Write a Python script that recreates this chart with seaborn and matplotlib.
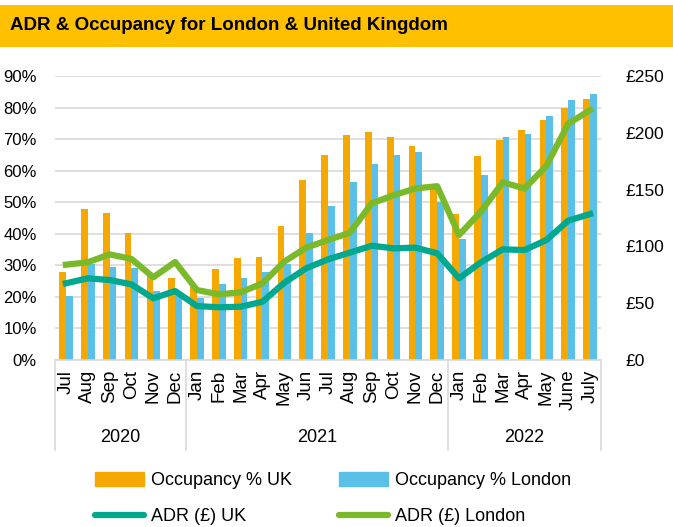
import numpy as np
import pandas as pd
import seaborn as sns
from matplotlib import pyplot as plt
from matplotlib.patches import Rectangle, Patch
from matplotlib.lines import Line2D

months = ["Jul", "Aug", "Sep", "Oct", "Nov", "Dec",
          "Jan", "Feb", "Mar", "Apr", "May", "Jun", "Jul", "Aug", "Sep", "Oct", "Nov", "Dec",
          "Jan", "Feb", "Mar", "Apr", "May", "June", "July"]
years = ["2020", "2021", "2022"]
year_spans = [6, 12, 7]

occ_uk = [27.9, 47.7, 46.5, 40.1, 27.0, 25.9,
          23.0, 28.8, 32.2, 32.6, 42.6, 57.0, 65.1, 71.2, 72.1, 70.6, 67.7, 54.5,
          46.4, 64.5, 69.7, 72.8, 76.1, 80.0, 82.8]
occ_london = [20.3, 30.4, 29.4, 29.0, 21.9, 21.0,
              19.8, 24.2, 26.0, 27.8, 30.4, 40.4, 48.9, 56.3, 62.1, 65.0, 65.9, 50.0,
              38.2, 58.6, 70.7, 71.7, 77.2, 82.5, 84.3]
adr_uk = [67.5, 71.9, 70.4, 66.6, 54.3, 60.7,
          47.5, 46.4, 46.9, 51.3, 68.0, 80.7, 88.6, 94.5, 100.6, 98.3, 98.9, 93.9,
          71.9, 86.0, 97.4, 96.8, 105.6, 122.7, 128.5]
adr_london = [83.9, 86.0, 93.0, 89.0, 72.8, 86.3,
              61.6, 57.8, 59.6, 67.5, 86.6, 98.9, 105.6, 112.0, 137.9, 145.0, 151.0, 153.0,
              110.0, 130.6, 156.4, 151.0, 170.8, 208.0, 220.0]

c_uk = "#F5A800"
c_lon = "#5BC0E8"
c_adr_uk = "#00A88F"
c_adr_lon = "#7AB929"

plt.rcParams["font.family"] = ["Liberation Sans", "DejaVu Sans"]
fs = 13

n = len(months)
idx = [f"{i:02d}" for i in range(n)]
bars = pd.DataFrame({
    "pos": idx * 2,
    "value": occ_uk + occ_london,
    "series": ["Occupancy % UK"] * n + ["Occupancy % London"] * n,
})
lines = pd.DataFrame({
    "pos": list(range(n)) * 2,
    "value": adr_uk + adr_london,
    "series": ["ADR (£) UK"] * n + ["ADR (£) London"] * n,
})

fig = plt.figure(figsize=(6.73, 5.27), dpi=100)
fig.patches.append(Rectangle((0, 1 - 47 / 527), 1, 42 / 527, transform=fig.transFigure,
                             facecolor="#FFC000", edgecolor="none", zorder=0))
fig.text(10 / 673, 1 - 26 / 527, "ADR & Occupancy for London & United Kingdom",
         fontsize=13.5, fontweight="bold", va="center", ha="left")

ax = fig.add_axes([55 / 673, 167 / 527, 546 / 673, 284 / 527])
sns.barplot(data=bars, x="pos", y="value", hue="series",
            palette=[c_uk, c_lon], width=0.62, ax=ax, legend=False, saturation=1)
ax.set_ylim(0, 90)
ax.set_xlim(-0.5, n - 0.5)
ax.set_yticks(range(0, 91, 10))
ax.set_yticklabels([f"{v}%" for v in range(0, 91, 10)], fontsize=12)
ax.set_xticks(range(n))
ax.set_xticklabels(months, rotation=90, fontsize=13.5)
ax.set_xlabel("")
ax.set_ylabel("")
ax.grid(axis="y", color="#D9D9D9", linewidth=1.2)
ax.set_axisbelow(True)
ax.tick_params(axis="x", length=0, pad=7)
ax.tick_params(axis="y", length=0, pad=13)
for s in ["top", "right", "left"]:
    ax.spines[s].set_visible(False)
ax.spines["bottom"].set_color("#D9D9D9")
ax.spines["bottom"].set_linewidth(1.2)

ax2 = ax.twinx()
sns.lineplot(data=lines, x="pos", y="value", hue="series",
             palette=[c_adr_uk, c_adr_lon], linewidth=4.5, ax=ax2, legend=False)
ax2.set_ylim(0, 250)
ax2.set_yticks(range(0, 251, 50))
ax2.set_yticklabels([f"£{v}" for v in range(0, 251, 50)], fontsize=12.5)
ax2.set_xlim(-0.5, n - 0.5)
ax2.set_xlabel("")
ax2.set_ylabel("")
ax2.tick_params(length=0, pad=18)
for s in ax2.spines.values():
    s.set_visible(False)

# year group separators and labels
trans = ax.get_xaxis_transform()
edge = -0.5
bounds = [edge]
for span in year_spans:
    edge += span
    bounds.append(edge)
for b in bounds:
    ax.plot([b, b], [0, -90 / 284], transform=trans, color="#D9D9D9",
            linewidth=1.2, clip_on=False)
for i, y in enumerate(years):
    ax.text((bounds[i] + bounds[i + 1]) / 2, -78 / 284, y, transform=trans,
            ha="center", va="center", fontsize=fs)

handles = [Patch(color=c_uk, label="Occupancy % UK"),
           Line2D([], [], color=c_adr_uk, linewidth=4.5, solid_capstyle="round", label="ADR (£) UK"),
           Patch(color=c_lon, label="Occupancy % London"),
           Line2D([], [], color=c_adr_lon, linewidth=4.5, solid_capstyle="round", label="ADR (£) London")]
fig.legend(handles=handles, ncol=2, loc="center", bbox_to_anchor=(0.495, 1 - 498.5 / 527),
           frameon=False, fontsize=fs, handlelength=2.7, handleheight=0.8,
           handletextpad=0.4, columnspacing=2.6, labelspacing=1.05)

fig.savefig("out.png", dpi=100)
